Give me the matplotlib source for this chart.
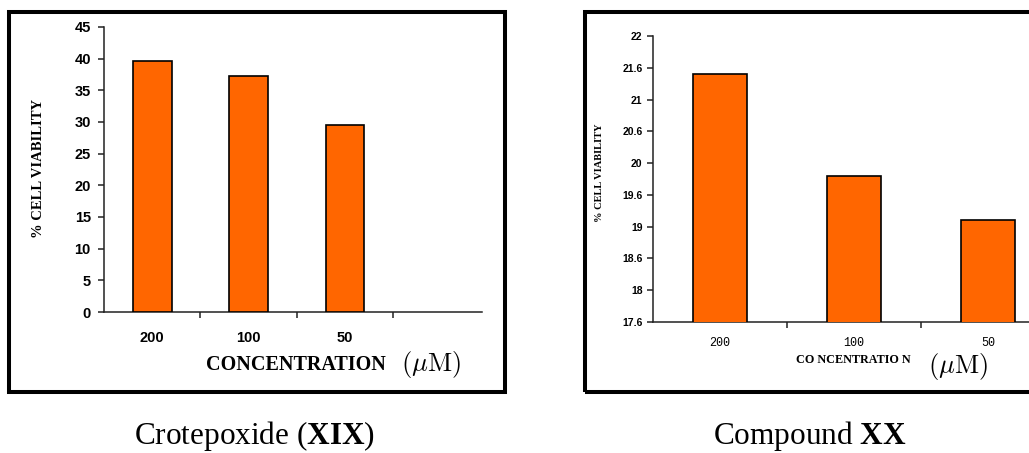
import matplotlib
matplotlib.use("Agg")
import matplotlib.pyplot as plt
from matplotlib.patches import Rectangle
import numpy as np

# Cell viability data
conc_labels = ["200", "100", "50"]
viability_xix = [39.7, 37.2, 29.5]
viability_xx = [21.4, 19.8, 19.1]

yticks_xix = [0, 5, 10, 15, 20, 25, 30, 35, 40, 45]
yticks_xx = [17.5, 18.0, 18.5, 19.0, 19.5, 20.0, 20.5, 21.0, 21.5, 22.0]
ytick_labels_xx = ["17.6", "18", "18.6", "19", "19.6", "20", "20.6", "21", "21.6", "22"]

caption_xix = r"Crotepoxide ($\mathbf{XIX}$)"
caption_xx = r"Compound $\mathbf{XX}$"

plt.rcParams["mathtext.fontset"] = "custom"
plt.rcParams["mathtext.rm"] = "Liberation Serif"
plt.rcParams["mathtext.bf"] = "Liberation Serif:bold"

W, H = 1029, 453
fig = plt.figure(figsize=(W / 100, H / 100), dpi=100)
fig.patch.set_facecolor("white")


def fx(x):
    return x / W


def fy(y):
    return 1 - y / H


def frame(x0, y0, x1, y1):
    r = Rectangle((fx(x0), fy(y1)), fx(x1) - fx(x0), fy(y0) - fy(y1),
                  transform=fig.transFigure, fill=False, edgecolor="black",
                  linewidth=2.9)
    fig.add_artist(r)


frame(9, 12, 505, 392)
frame(585, 12, 1200, 392)

BAR_COLOR = "#FF6600"
AX_COLOR = "#222222"


def style_axes(ax, n_slots):
    for s in ("top", "right"):
        ax.spines[s].set_visible(False)
    for s in ("left", "bottom"):
        ax.spines[s].set_color(AX_COLOR)
        ax.spines[s].set_linewidth(1.1)
    ax.set_xticks(np.arange(n_slots) + 0.5, minor=True)
    ax.tick_params(axis="x", which="minor", length=4.5, width=1.1,
                   color=AX_COLOR, direction="out")
    ax.tick_params(axis="y", which="major", length=4.5, width=1.1,
                   color=AX_COLOR, direction="out")
    ax.set_facecolor("none")


# Left panel: Crotepoxide (XIX)
ax1 = fig.add_axes([fx(104), fy(312), (482 - 104) / W, (312 - 27) / H])
x1 = np.arange(len(conc_labels))
ax1.bar(x1, viability_xix, width=0.4, color=BAR_COLOR, edgecolor="black",
        linewidth=1.2, zorder=3)
ax1.set_xlim(-0.5, 3.42)
ax1.set_ylim(0, 45)
ax1.set_yticks(yticks_xix)
ax1.set_yticklabels([str(v) for v in yticks_xix], family="Liberation Sans",
                    weight="bold", size=10.5)
ax1.set_xticks(x1)
ax1.set_xticklabels(conc_labels, family="Liberation Sans", weight="bold", size=10.5)
ax1.tick_params(axis="x", which="major", length=0, pad=14)
ax1.tick_params(axis="y", which="major", pad=5)
style_axes(ax1, 3)

fig.text(fx(39), fy(168), "% CELL VIABILITY", rotation=90, ha="center",
         va="center", family="Liberation Serif", weight="bold", size=10.5)
fig.text(fx(296), fy(365), "CONCENTRATION", ha="center", va="center",
         family="Liberation Serif", weight="bold", size=14.5)
fig.text(fx(431), fy(364), r"$(\mu\mathrm{M})$", ha="center", va="center",
         size=19, math_fontfamily="cm")

# Right panel: Compound XX
ax2 = fig.add_axes([fx(653), fy(322), (1055 - 653) / W, (322 - 36) / H])
x2 = np.arange(len(conc_labels))
ax2.bar(x2, viability_xx, width=0.4, color=BAR_COLOR, edgecolor="black",
        linewidth=1.2, zorder=3)
ax2.set_xlim(-0.5, 2.5)
ax2.set_ylim(17.5, 22)
ax2.set_yticks(yticks_xx)
ax2.set_yticklabels(ytick_labels_xx, family="Liberation Sans", weight="bold",
                    size=7.5)
ax2.set_xticks(x2)
ax2.set_xticklabels(conc_labels, family="Liberation Mono", size=8.5)
ax2.tick_params(axis="x", which="major", length=0, pad=11)
ax2.tick_params(axis="y", which="major", pad=3)
style_axes(ax2, 2)

fig.text(fx(600), fy(173), "% CELL VIABILITY", rotation=90, ha="center",
         va="center", family="Liberation Serif", weight="bold", size=7.5)
fig.text(fx(853), fy(360), "CO NCENTRATIO N", ha="center", va="center",
         family="Liberation Serif", weight="bold", size=8.7)
fig.text(fx(958), fy(367), r"$(\mu\mathrm{M})$", ha="center", va="center",
         size=19, math_fontfamily="cm")

# Captions under each panel
fig.text(fx(255), fy(444), caption_xix, ha="center", va="baseline",
         family="Liberation Serif", size=22.5)
fig.text(fx(810), fy(444), caption_xx, ha="center", va="baseline",
         family="Liberation Serif", size=22.5)

fig.savefig("out.png", dpi=100, facecolor="white")
